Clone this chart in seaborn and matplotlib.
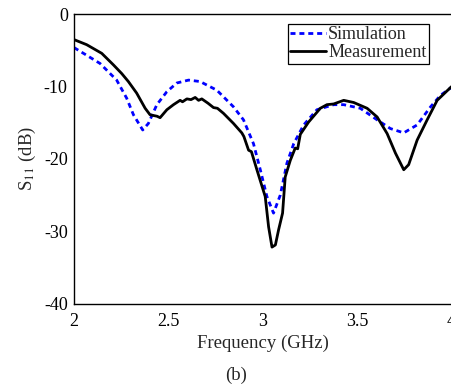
import numpy as np
import pandas as pd
import matplotlib
matplotlib.use("Agg")
import matplotlib.pyplot as plt
import seaborn as sns

# Simulation curve (GHz, dB)
sim_freq = [2.0, 2.138, 2.226, 2.279, 2.315, 2.364, 2.394, 2.439, 2.492, 2.545,
            2.607, 2.668, 2.757, 2.845, 2.898, 2.951, 2.987, 3.022, 3.057, 3.093,
            3.128, 3.164, 3.217, 3.287, 3.376, 3.429, 3.517, 3.606, 3.676, 3.747,
            3.818, 3.889, 3.942, 4.0]
sim_s11 = [-4.6, -6.8, -9.1, -11.6, -13.9, -16.0, -15.1, -12.5, -10.7, -9.5,
           -9.1, -9.3, -10.5, -12.8, -14.6, -17.9, -21.5, -25.2, -27.5, -25.0,
           -20.6, -17.9, -15.3, -13.2, -12.5, -12.5, -13.0, -14.6, -15.8, -16.4,
           -15.3, -12.8, -11.2, -10.1]

# Measurement curve (GHz, dB)
meas_freq = [2.0, 2.067, 2.147, 2.209, 2.253, 2.288, 2.332, 2.377, 2.403, 2.440,
             2.456, 2.492, 2.527, 2.562, 2.575, 2.598, 2.620, 2.642, 2.660, 2.677,
             2.710, 2.739, 2.760, 2.792, 2.845, 2.889, 2.900, 2.925, 2.940, 2.969,
             3.013, 3.031, 3.049, 3.067, 3.084, 3.105, 3.119, 3.146, 3.172, 3.185,
             3.199, 3.243, 3.305, 3.340, 3.376, 3.429, 3.482, 3.553, 3.606, 3.659,
             3.703, 3.747, 3.773, 3.818, 3.871, 3.924, 4.0]
meas_s11 = [-3.5, -4.2, -5.4, -7.0, -8.2, -9.3, -10.9, -13.0, -13.9, -14.1,
            -14.3, -13.2, -12.5, -11.9, -12.1, -11.7, -11.8, -11.5, -11.9, -11.7,
            -12.3, -12.9, -13.0, -13.7, -15.1, -16.4, -16.9, -18.8, -19.0, -21.5,
            -25.2, -29.4, -32.2, -31.9, -29.8, -27.5, -22.5, -20.2, -18.5, -18.6,
            -16.6, -14.9, -13.0, -12.5, -12.4, -11.9, -12.2, -13.0, -14.2, -16.5,
            -19.2, -21.5, -20.8, -17.4, -14.6, -11.9, -10.0]

x_ticks = [2, 2.5, 3, 3.5, 4]
y_ticks = [0, -10, -20, -30, -40]

sns.set_style("white")
plt.rcParams['font.family'] = ['Liberation Serif', 'DejaVu Serif']
plt.rcParams['mathtext.fontset'] = 'stix'

sim_df = pd.DataFrame({'freq': sim_freq, 's11': sim_s11})
meas_df = pd.DataFrame({'freq': meas_freq, 's11': meas_s11})

fig = plt.figure(figsize=(4.51, 3.87), dpi=100)
ax = fig.add_axes([74 / 451, 1 - 303.5 / 387, 377.5 / 451, 289.2 / 387])

sns.lineplot(data=sim_df, x='freq', y='s11', ax=ax, color='#0000FF',
             linewidth=2.0, linestyle=(0, (1.8, 1.4)), label='Simulation')
sns.lineplot(data=meas_df, x='freq', y='s11', ax=ax, color='black',
             linewidth=2.0, label='Measurement')

ax.set_xlim(2, 4)
ax.set_ylim(-40, 0)
ax.set_xticks(x_ticks)
ax.set_xticklabels(['2', '2.5', '3', '3.5', '4'])
ax.set_yticks(y_ticks)
ax.set_yticklabels(['0', '-10', '-20', '-30', '-40'])
ax.tick_params(direction='in', length=4, width=0.8, labelsize=13, colors='black',
               top=False, right=False)
ax.tick_params(axis='x', pad=7)
ax.tick_params(axis='y', pad=4.5)
for side in ['top', 'bottom', 'left', 'right']:
    ax.spines[side].set_visible(True)
    ax.spines[side].set_color('black')
    ax.spines[side].set_linewidth(1.0)

ax.set_xlabel('Frequency (GHz)', fontsize=13.5, labelpad=3)
ax.set_ylabel('S$_{11}$ (dB)', fontsize=13.5, labelpad=4)

leg = ax.legend(loc='upper right', bbox_to_anchor=(0.941, 0.968), fontsize=13,
                handlelength=2.0, handletextpad=0.1, borderpad=0.15,
                borderaxespad=0, labelspacing=0.05, fancybox=False,
                framealpha=1)
leg.get_frame().set_edgecolor('black')
leg.get_frame().set_linewidth(0.9)

fig.text(236 / 451, 1 - 375 / 387, '(b)', ha='center', va='center', fontsize=13.5)

fig.savefig('out.png', dpi=100)
